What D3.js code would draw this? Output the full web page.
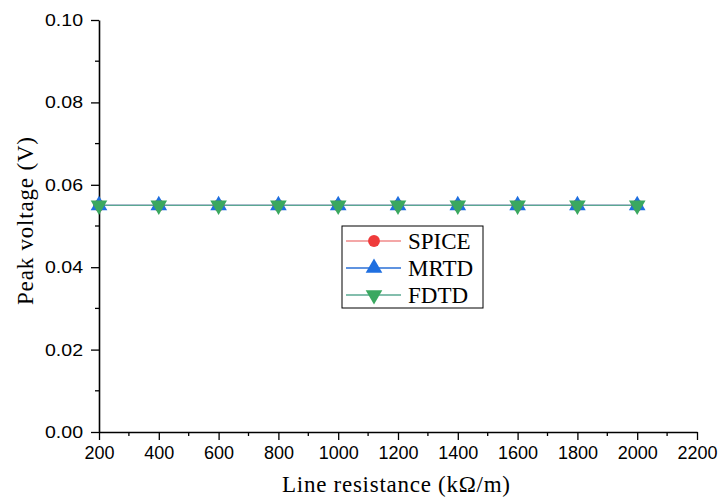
<!DOCTYPE html>
<html>
<head>
<meta charset="utf-8">
<script src="https://cdn.jsdelivr.net/npm/d3@7"></script>
<style>
  body { margin: 0; background: #fff; }
  svg { display: block; }
</style>
</head>
<body>
<div id="chart"></div>
<script>
// donnees
var resistances = [200, 400, 600, 800, 1000, 1200, 1400, 1600, 1800, 2000];
var spice = [0.055, 0.055, 0.055, 0.055, 0.055, 0.055, 0.055, 0.055, 0.055, 0.055];
var mrtd  = [0.055, 0.055, 0.055, 0.055, 0.055, 0.055, 0.055, 0.055, 0.055, 0.055];
var fdtd  = [0.055, 0.055, 0.055, 0.055, 0.055, 0.055, 0.055, 0.055, 0.055, 0.055];
var xTicks = [200, 400, 600, 800, 1000, 1200, 1400, 1600, 1800, 2000, 2200];
var yTicks = [0.00, 0.02, 0.04, 0.06, 0.08, 0.10];
var seriesNames = ["SPICE", "MRTD", "FDTD"];

var largeur = 719, hauteur = 497;
var svg = d3.select("#chart").append("svg")
  .attr("width", largeur).attr("height", hauteur);

var x = d3.scaleLinear().domain([200, 2200]).range([99, 697]);
var y = d3.scaleLinear().domain([0, 0.10]).range([432, 20]);

//----------------------------------------------------------------
// axes
var xMinor = d3.range(300, 2200, 200);
var yMinor = d3.range(0.01, 0.1, 0.02);

svg.append("g").selectAll("line").data(xMinor).enter().append("line")
  .attr("x1", function(d){return x(d);}).attr("x2", function(d){return x(d);})
  .attr("y1", 432).attr("y2", 436)
  .attr("stroke", "#000").attr("stroke-width", 1.3);
svg.append("g").selectAll("line").data(yMinor).enter().append("line")
  .attr("y1", function(d){return y(d);}).attr("y2", function(d){return y(d);})
  .attr("x1", 99).attr("x2", 95)
  .attr("stroke", "#000").attr("stroke-width", 1.3);

var xAxis = svg.append("g")
  .attr("transform", "translate(0,432)")
  .call(d3.axisBottom(x).tickValues(xTicks).tickSize(8).tickPadding(6).tickSizeOuter(0)
    .tickFormat(d3.format("d")));
var yAxis = svg.append("g")
  .attr("transform", "translate(99,0)")
  .call(d3.axisLeft(y).tickValues(yTicks).tickSize(8).tickPadding(8).tickSizeOuter(0)
    .tickFormat(d3.format(".2f")));

[xAxis, yAxis].forEach(function(a){
  a.select(".domain").attr("stroke", "#000").attr("stroke-width", 1.6);
  a.selectAll(".tick line").attr("stroke", "#000").attr("stroke-width", 1.3);
  a.selectAll("text")
    .attr("font-family", "Liberation Sans, Arial, sans-serif")
    .attr("font-size", "18px").attr("fill", "#000");
});
// les etiquettes de l'axe y sont plus larges sur la figure
yAxis.selectAll("text")
  .attr("font-size", "17px")
  .attr("textLength", 38)
  .attr("lengthAdjust", "spacingAndGlyphs");

svg.append("text")
  .attr("x", 396).attr("y", 492)
  .attr("text-anchor", "middle")
  .attr("font-family", "Liberation Serif, Times New Roman, serif")
  .attr("font-size", "23px")
  .attr("textLength", 228)
  .text("Line resistance (k\u03A9/m)");

svg.append("text")
  .attr("transform", "translate(33,221) rotate(-90)")
  .attr("text-anchor", "middle")
  .attr("font-family", "Liberation Serif, Times New Roman, serif")
  .attr("font-size", "23px")
  .attr("textLength", 168)
  .text("Peak voltage (V)");

//----------------------------------------------------------------
// series
var series = [
  {nom: "SPICE", valeurs: spice, ligne: "#f08a8a", couleur: "#ef3b3b", forme: d3.symbolCircle, rot: 0},
  {nom: "MRTD", valeurs: mrtd, ligne: "#2a6fd6", couleur: "#1f6fe0", forme: d3.symbolTriangle, rot: 0},
  {nom: "FDTD", valeurs: fdtd, ligne: "#5aa892", couleur: "#3aa860", forme: d3.symbolTriangle, rot: 180}
];

var ligne = d3.line()
  .x(function(d, i){return x(resistances[i]);})
  .y(function(d){return y(d);});

series.forEach(function(s){
  svg.append("path")
    .attr("d", ligne(s.valeurs))
    .attr("fill", "none")
    .attr("stroke", s.ligne)
    .attr("stroke-width", 1.3);
});

series.forEach(function(s){
  svg.append("g").selectAll("path").data(s.valeurs).enter().append("path")
    .attr("d", d3.symbol().type(s.forme).size(s.forme === d3.symbolCircle ? 110 : 120))
    .attr("transform", function(d, i){
      return "translate(" + x(resistances[i]) + "," + y(d) + ") rotate(" + s.rot + ")";
    })
    .attr("fill", s.couleur);
});

//----------------------------------------------------------------
// legende
var leg = svg.append("g");
leg.append("rect")
  .attr("x", 342).attr("y", 226).attr("width", 141).attr("height", 82)
  .attr("fill", "#fff").attr("stroke", "#000").attr("stroke-width", 1);

series.forEach(function(s, i){
  var yy = 241 + i * 27;
  leg.append("line")
    .attr("x1", 346).attr("x2", 401).attr("y1", yy).attr("y2", yy)
    .attr("stroke", s.ligne).attr("stroke-width", 1.3);
  leg.append("path")
    .attr("d", d3.symbol().type(s.forme).size(s.forme === d3.symbolCircle ? 110 : 120))
    .attr("transform", "translate(374," + yy + ") rotate(" + s.rot + ")")
    .attr("fill", s.couleur);
  leg.append("text")
    .attr("x", 408).attr("y", yy + 8)
    .attr("font-family", "Liberation Serif, Times New Roman, serif")
    .attr("font-size", "23px")
    .text(seriesNames[i]);
});
</script>
</body>
</html>
